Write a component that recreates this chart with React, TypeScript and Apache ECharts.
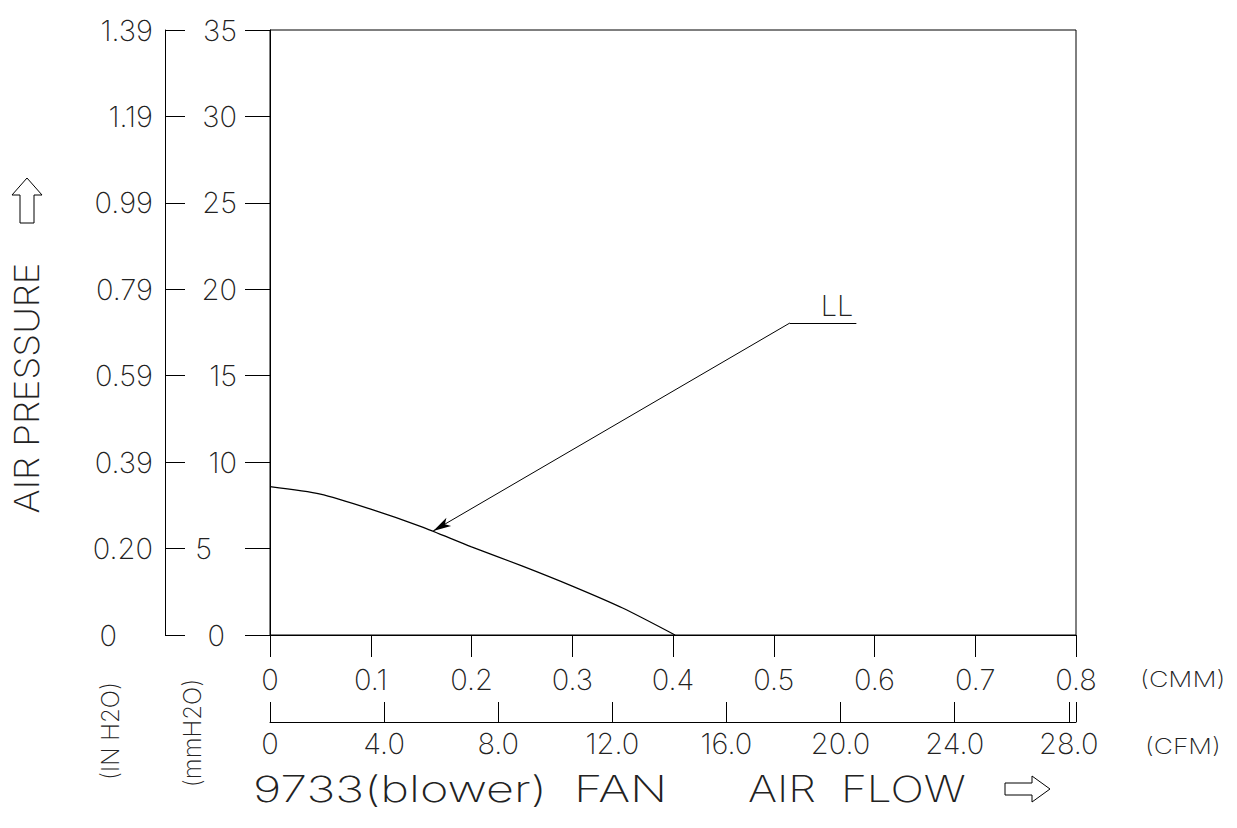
import React, { useEffect, useRef } from "react";
import * as echarts from "echarts";

// ---- data ----
const CMM = [0, 0.05, 0.1, 0.15, 0.2, 0.25, 0.3, 0.35, 0.402];
const PRESSURE_MM = [8.58, 8.15, 7.28, 6.27, 5.1, 4.0, 2.83, 1.56, 0];

const MM_TICKS = [0, 5, 10, 15, 20, 25, 30, 35];
const INCH_LABELS = ["0", "0.20", "0.39", "0.59", "0.79", "0.99", "1.19", "1.39"];
const CMM_TICKS = [0, 0.1, 0.2, 0.3, 0.4, 0.5, 0.6, 0.7, 0.8];
const CFM_TICKS = [0, 4, 8, 12, 16, 20, 24, 28];
const CMM_PER_CFM = 0.0283168;

const CURVE_NAME = "LL";
const LEADER_TIP = [0.162, 6.02];
const LEADER_ELBOW = [0.516, 18.05];
const LEADER_END = [0.582, 18.05];

const Y_TITLE = "AIR PRESSURE";
const INCH_UNIT = "(IN H2O)";
const MM_UNIT = "(mmH2O)";
const CMM_UNIT = "(CMM)";
const CFM_UNIT = "(CFM)";
const MODEL_TITLE = "9733(blower)  FAN";
const X_TITLE = "AIR  FLOW";

const FONT = "Inter";
const WEIGHT = 200;
const TXT = "#222";
const TICK_FONT = 29;

export default function App() {
  const ref = useRef<HTMLDivElement>(null);

  useEffect(() => {
    if (!ref.current) return;
    const chart = echarts.init(ref.current, null, { renderer: "svg" });
    const cmmMax = CMM_TICKS[CMM_TICKS.length - 1];
    const cfmMax = cmmMax / CMM_PER_CFM;
    const mmMax = MM_TICKS[MM_TICKS.length - 1];

    const txt = (size: number) => ({
      fontFamily: FONT,
      fontWeight: WEIGHT,
      fontSize: size,
      color: TXT,
    });

    const gText = (
      text: string,
      x: number,
      y: number,
      size: number,
      opts: { rotate?: boolean; align?: string; scaleX?: number } = {}
    ) => ({
      type: "text",
      x,
      y,
      rotation: opts.rotate ? Math.PI / 2 : 0,
      scaleX: opts.scaleX ?? 1,
      style: {
        text,
        fontFamily: FONT,
        fontWeight: WEIGHT,
        fontSize: size,
        fill: TXT,
        align: opts.align ?? "left",
        verticalAlign: "middle",
      },
    });

    const option: any = {
      animation: false,
      backgroundColor: "#fff",
      grid: {
        left: 270,
        right: 161,
        top: 30,
        bottom: 193,
        show: true,
        borderColor: "#000",
        borderWidth: 1,
      },
      xAxis: [
        {
          type: "value",
          position: "bottom",
          min: 0,
          max: cmmMax,
          interval: 0.1,
          splitLine: { show: false },
          axisLine: { show: true, lineStyle: { color: "#000", width: 1 } },
          axisTick: { show: true, length: 22, lineStyle: { color: "#000" } },
          axisLabel: {
            ...txt(TICK_FONT),
            margin: 30,
            formatter: (v: number) => (v === 0 ? "0" : v.toFixed(1)),
          },
        },
        {
          type: "value",
          position: "bottom",
          offset: 87,
          min: 0,
          max: cfmMax,
          interval: 4,
          splitLine: { show: false },
          axisLine: { show: true, onZero: false, lineStyle: { color: "#000", width: 1 } },
          axisTick: {
            show: true,
            inside: true,
            length: 20,
            customValues: [...CFM_TICKS, cfmMax],
            lineStyle: { color: "#000" },
          },
          axisLabel: {
            ...txt(TICK_FONT),
            margin: 7,
            customValues: CFM_TICKS,
            formatter: (v: number) => (v === 0 ? "0" : v.toFixed(1)),
          },
        },
      ],
      yAxis: [
        {
          type: "value",
          position: "left",
          min: 0,
          max: mmMax,
          interval: 5,
          splitLine: { show: false },
          axisLine: { show: true, lineStyle: { color: "#000", width: 1 } },
          axisTick: { show: true, length: 25, lineStyle: { color: "#000" } },
          axisLabel: {
            ...txt(TICK_FONT),
            margin: 21,
            formatter: (v: number) =>
              v === 0 ? "{z|0}" : v === 5 ? "{f|5}" : `{n|${v}}`,
            rich: {
              n: { ...txt(TICK_FONT), padding: [0, 12, 0, 0] },
              f: { ...txt(TICK_FONT), padding: [0, 37, 0, 0] },
              z: { ...txt(TICK_FONT), padding: [0, 24, 0, 0] },
            },
          },
        },
        {
          type: "value",
          position: "left",
          offset: 105,
          min: 0,
          max: mmMax,
          interval: 5,
          splitLine: { show: false },
          axisLine: { show: true, onZero: false, lineStyle: { color: "#000", width: 1 } },
          axisTick: { show: true, inside: true, length: 20, lineStyle: { color: "#000" } },
          axisLabel: {
            ...txt(TICK_FONT),
            margin: 12,
            formatter: (v: number) => {
              const s = INCH_LABELS[Math.round(v / 5)];
              return v === 0 ? `{z|${s}}` : `{n|${s}}`;
            },
            rich: {
              n: { ...txt(TICK_FONT) },
              z: { ...txt(TICK_FONT), padding: [0, 36, 0, 0] },
            },
          },
        },
      ],
      series: [
        {
          name: CURVE_NAME,
          type: "line",
          xAxisIndex: 0,
          yAxisIndex: 0,
          data: CMM.map((x, i) => [x, PRESSURE_MM[i]]),
          showSymbol: false,
          symbol: "none",
          smooth: 0.25,
          lineStyle: { color: "#000", width: 1.2 },
          silent: true,
          markLine: {
            silent: true,
            animation: false,
            symbol: ["none", "none"],
            lineStyle: { color: "#000", width: 1, type: "solid" },
            label: { show: false },
            emphasis: { disabled: true },
            data: [
              [
                { coord: LEADER_TIP, symbol: "arrow", symbolSize: [7, 18] },
                { coord: LEADER_ELBOW, symbol: "none" },
              ],
            ],
          },
        },
        {
          type: "line",
          xAxisIndex: 0,
          yAxisIndex: 0,
          data: [],
          silent: true,
          markLine: {
            silent: true,
            symbol: ["none", "none"],
            lineStyle: { color: "#000", width: 1, type: "solid" },
            emphasis: { disabled: true },
            label: {
              show: true,
              position: "insideEndTop",
              formatter: CURVE_NAME,
              distance: 3,
              ...txt(29),
            },
            data: [[{ coord: LEADER_ELBOW }, { coord: LEADER_END }]],
          },
        },
      ],
      graphic: [
        gText(Y_TITLE, 27, 388, 34, { rotate: true, align: "center", scaleX: 1.08 }),
        {
          type: "polygon",
          shape: {
            points: [
              [20, 223],
              [20, 195],
              [12, 195],
              [27, 178],
              [42, 195],
              [34, 195],
              [34, 223],
            ],
          },
          style: { fill: "none", stroke: "#000", lineWidth: 1 },
        },
        gText(INCH_UNIT, 110, 731, 24, { rotate: true, align: "center" }),
        gText(MM_UNIT, 192, 733, 24, { rotate: true, align: "center" }),
        gText(CMM_UNIT, 1140, 679, 22, { scaleX: 1.22 }),
        gText(CFM_UNIT, 1145, 746, 22, { scaleX: 1.2 }),
        gText(MODEL_TITLE, 253, 789, 36, { scaleX: 1.35 }),
        gText(X_TITLE, 748, 789, 36, { scaleX: 1.23 }),
        {
          type: "polygon",
          shape: {
            points: [
              [1005, 783],
              [1032, 783],
              [1032, 776],
              [1050, 789],
              [1032, 802],
              [1032, 795],
              [1005, 795],
            ],
          },
          style: { fill: "none", stroke: "#000", lineWidth: 1 },
        },
      ],
    };

    chart.setOption(option);
    return () => chart.dispose();
  }, []);

  return (
    <div
      ref={ref}
      style={{ position: "absolute", left: 0, top: 0, width: 1237, height: 828 }}
    />
  );
}
